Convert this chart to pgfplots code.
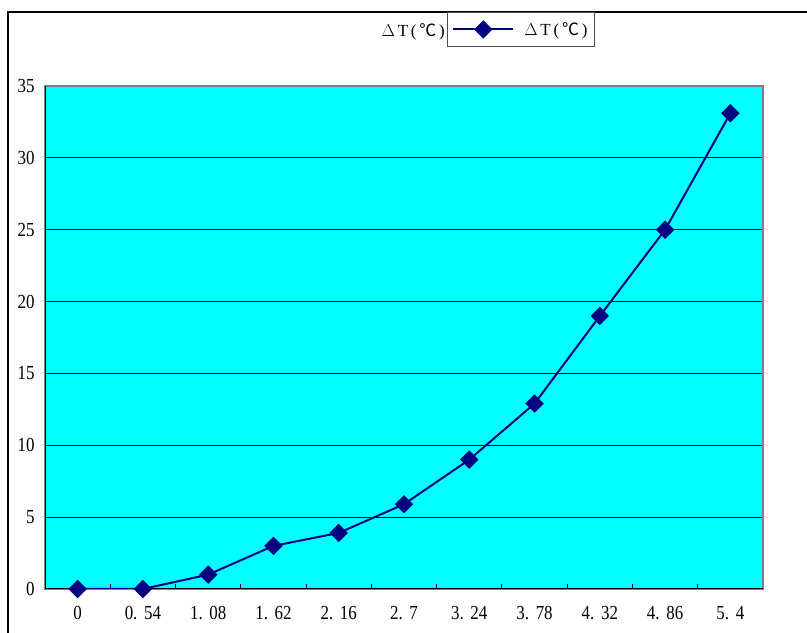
\documentclass[border=0pt]{standalone}
\usepackage{pgfplots}
\pgfplotsset{compat=1.18}
\usepackage{fontspec}
\setmainfont{Liberation Serif}
\newfontfamily\tickfont[FakeStretch=0.85]{Liberation Serif}
\newfontfamily\cjk{Noto Sans CJK SC}
\definecolor{navyline}{RGB}{0,0,128}
\definecolor{plotcyan}{RGB}{0,255,255}
\newcommand{\dT}{$\Delta$\,T\,(\,{\cjk ℃}\,)}
\begin{document}
\begin{tikzpicture}[x=1bp,y=1bp]
\path[use as bounding box] (0,0) rectangle (807,633);
\draw[black, line width=1.2bp] (8,-10) -- (8,621) -- (830,621);
\node[font=\fontsize{17}{20}\selectfont, anchor=east, inner sep=1bp] at (446,601) {\dT};
\begin{axis}[
    at={(45bp,44bp)}, anchor=south west,
    scale only axis, width=718bp, height=503bp,
    xmin=-0.5, xmax=10.5, ymin=0, ymax=35,
    ytick={0,5,...,35},
    xtick={0,...,10},
    xticklabels={0, 0.\,\,54, 1.\,\,08, 1.\,\,62, 2.\,\,16, 2.\,\,7, 3.\,\,24, 3.\,\,78, 4.\,\,32, 4.\,\,86, 5.\,\,4},
    minor xtick={0.5,1.5,...,9.5},
    major tick length=0pt,
    minor tick length=5bp,
    tick align=inside,
    xtick pos=lower,
    ymajorgrids,
    major grid style={black, line width=0.8bp},
    minor x grid style={draw=none},
    minor tick style={black, line width=1bp},
    axis background/.style={fill=plotcyan},
    axis line style={draw=gray, line width=1.5bp},
    /pgf/number format/assume math mode=true,
    ticklabel style={font=\tickfont\fontsize{20}{22}\selectfont},
    yticklabel style={xshift=-7bp},
    xticklabel style={yshift=-14bp},
    legend style={at={(0.56,1.147)}, anchor=north west, draw=black!70,
        fill=white, font=\fontsize{17}{20}\selectfont,
        inner xsep=5bp, inner ysep=8bp,
        cells={anchor=west}},
    legend image code/.code={
        \draw[#1, mark=none] (0bp,0bp) -- (60bp,0bp);
        \draw[#1, only marks] plot coordinates {(30bp,0bp)};
    },
]
\draw[black, line width=1.5bp] (rel axis cs:0,1) -- (rel axis cs:0,0) -- (rel axis cs:1,0);
\addplot[navyline, line width=2bp, mark=square*,
    mark options={rotate=45, solid, fill=navyline, draw=navyline}, mark size=5.5bp]
coordinates {
    (0,0) (1,0) (2,1) (3,3) (4,3.9) (5,5.9)
    (6,9) (7,12.9) (8,19) (9,25) (10,33.1)
};
\addlegendentry{\hspace{8bp}\dT\hspace{6bp}}
\end{axis}
\end{tikzpicture}
\end{document}
